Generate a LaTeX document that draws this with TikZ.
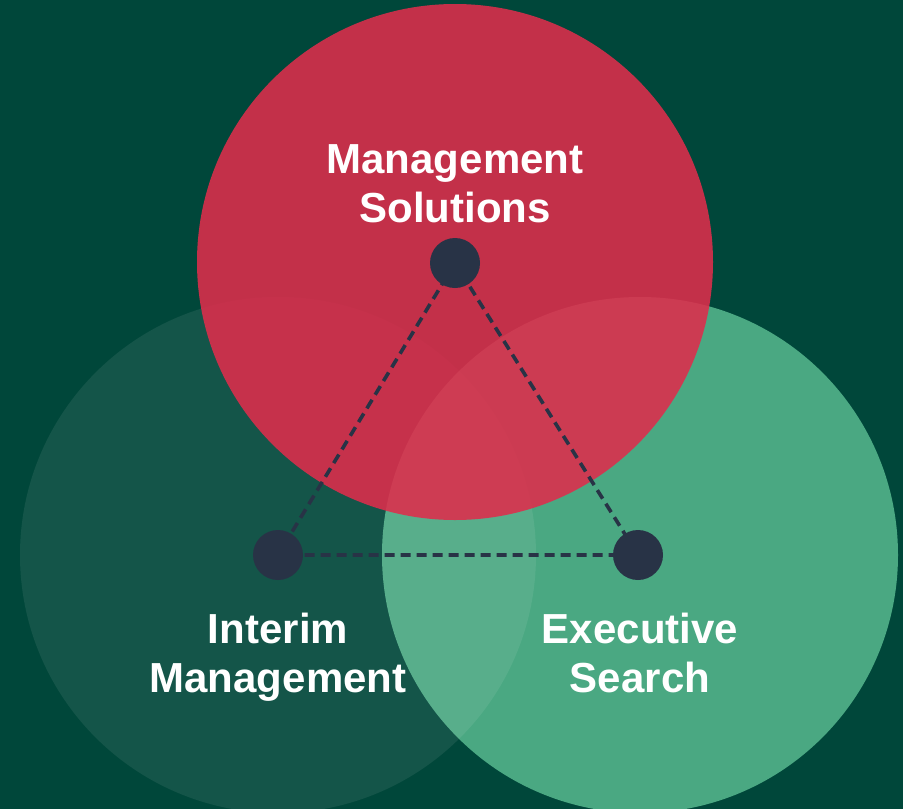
\documentclass[tikz,border=0pt]{standalone}
\usepackage{fontspec}
\setmainfont{Liberation Sans}
\definecolor{bg}{RGB}{0,71,58}
\definecolor{redc}{RGB}{223,45,76}
\definecolor{greenc}{RGB}{74,168,130}
\definecolor{dotc}{RGB}{40,51,70}
\pgfdeclarelayer{back}
\pgfdeclarelayer{mid}
\pgfsetlayers{back,mid,main}
\tikzset{
  dotnode/.style={circle,fill=dotc,minimum size=50pt,inner sep=0pt},
  lbl/.style={text=white,font=\bfseries\fontsize{42}{50}\selectfont,align=center},
  link/.style={draw=dotc,line width=3.6pt,dash pattern=on 10pt off 6pt}
}
\begin{document}
\begin{tikzpicture}[x=1pt,y=-1pt]
\begin{pgfonlayer}{back}
\fill[bg] (0,0) rectangle (903,809);
\clip (0,0) rectangle (903,809);
\fill[greenc] (640,555) circle (258);
\fill[white,opacity=0.08] (278,555) circle (258);
\fill[redc,opacity=0.88] (455,262) circle (258);
\end{pgfonlayer}
\useasboundingbox (0,0) rectangle (903,809);
\node[dotnode] (ms) at (455,263) {};
\node[dotnode] (im) at (278,555) {};
\node[dotnode] (es) at (638,555) {};
\begin{pgfonlayer}{mid}
\draw[link] (ms.center) -- (im.center) -- (es.center) -- cycle;
\end{pgfonlayer}
\node[lbl,anchor=base] (t1) at (455,173) {Management};
\node[lbl,anchor=base] (t2) at (455,222) {Solutions};
\node[lbl,anchor=base] (t3) at (278,643) {Interim};
\node[lbl,anchor=base] (t4) at (278,692) {Management};
\node[lbl,anchor=base] (t5) at (640,643) {Executive};
\node[lbl,anchor=base] (t6) at (640,692) {Search};
\end{tikzpicture}
\end{document}
